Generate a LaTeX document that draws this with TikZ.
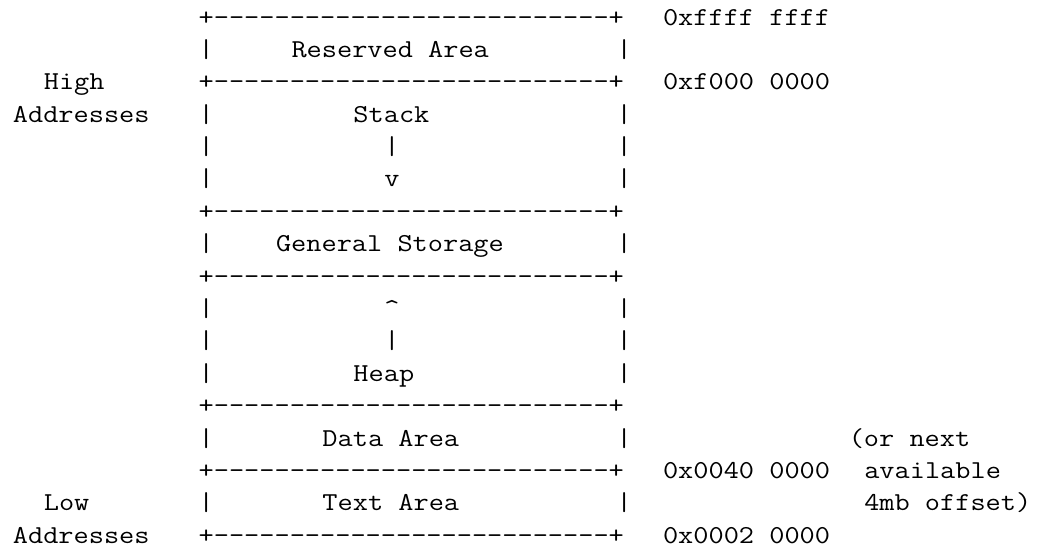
\documentclass[tikz,border=0pt]{standalone}
\usepackage{fontspec}
\usepackage{graphicx}
\usepackage{tikz}
\newcommand{\tty}[1]{\scalebox{1.143}[1]{#1}}
\newcommand{\edge}{\tty{+-{}-{}-{}-{}-{}-{}-{}-{}-{}-{}-{}-{}-{}-{}-{}-{}-{}-{}-{}-{}-{}-{}-{}-{}-{}-{}+}}
\tikzset{cell/.style={font=\ttfamily\fontsize{12.9}{15}\selectfont, inner sep=0pt, anchor=base west}}

\begin{document}
\begin{tikzpicture}[x=7.74pt, y=-16.2pt]
			\useasboundingbox (-0.8075,-0.7716) rectangle (67.09,16.142);
			% memory map, one column per character
			\node[cell] (edge0) at (12,0) {\edge};
			\node[cell] (edge2) at (12,2) {\edge};
			\node[cell] (edge6) at (12,6) {\edge};
			\node[cell] (edge8) at (12,8) {\edge};
			\node[cell] (edge12) at (12,12) {\edge};
			\node[cell] (edge14) at (12,14) {\edge};
			\node[cell] (edge16) at (12,16) {\edge};
			\foreach \r in {1,3,4,5,7,9,10,11,13,15}{
				\node[cell] (lside\r) at (12,\r) {\tty{|}};
				\node[cell] (rside\r) at (39,\r) {\tty{|}};
			}
			\node[cell] (reserved) at (18,1) {\tty{Reserved Area}};
			\node[cell] (stack) at (22,3) {\tty{Stack}};
			\node[cell] (stackbar) at (24,4) {\tty{|}};
			\node[cell] (stackhead) at (24,5) {\tty{v}};
			\node[cell] (general) at (17,7) {\tty{General Storage}};
			\node[cell] (heaphead) at (24,9) {\tty{\textasciicircum}};
			\node[cell] (heapbar) at (24,10) {\tty{|}};
			\node[cell] (heap) at (22,11) {\tty{Heap}};
			\node[cell] (data) at (20,13) {\tty{Data Area}};
			\node[cell] (text) at (20,15) {\tty{Text Area}};
			\node[cell] (high) at (2,2) {\tty{High}};
			\node[cell] (highaddr) at (0,3) {\tty{Addresses}};
			\node[cell] (low) at (2,15) {\tty{Low}};
			\node[cell] (lowaddr) at (0,16) {\tty{Addresses}};
			\node[cell] (addrtop) at (42,0) {\tty{0xffff ffff}};
			\node[cell] (addrstack) at (42,2) {\tty{0xf000 0000}};
			\node[cell] (addrdata) at (42,14) {\tty{0x0040 0000}};
			\node[cell] (addrtext) at (42,16) {\tty{0x0002 0000}};
			\node[cell] (note1) at (54,13) {\tty{(or next}};
			\node[cell] (note2) at (55,14) {\tty{available}};
			\node[cell] (note3) at (55,15) {\tty{4mb offset)}};
		\end{tikzpicture}
\end{document}
